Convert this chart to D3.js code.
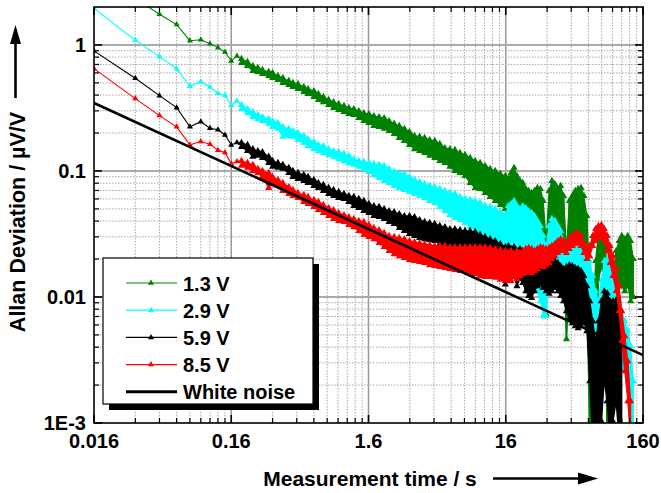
<!DOCTYPE html>
<html>
<head>
<meta charset="utf-8">
<script src="https://cdn.jsdelivr.net/npm/d3@7"></script>
<style>
  body { margin: 0; background: #fff; }
  text { font-family: "Liberation Sans", Arial, Helvetica, sans-serif; font-weight: bold; fill: #000; }
</style>
</head>
<body>
<svg id="chart" width="661" height="493"></svg>
<script>
// Averaging times (s): the first eleven multiples of the 16 ms sample interval ...
const tauShort = [0.016, 0.032, 0.048, 0.064, 0.080, 0.096, 0.112, 0.128, 0.144, 0.160, 0.176];
// ... then sampling positions across the dense, noisy part of each curve
const tauBand = [0.19, 0.21, 0.23, 0.25, 0.27, 0.30, 0.32, 0.35, 0.38, 0.42,
  0.45, 0.49, 0.54, 0.58, 0.64, 0.69, 0.75, 0.82, 0.89, 0.97,
  1.06, 1.15, 1.25, 1.36, 1.48, 1.61, 1.75, 1.91, 2.08, 2.26,
  2.46, 2.68, 2.92, 3.18, 3.46, 3.77, 4.10, 4.46, 4.86, 5.29,
  5.76, 6.27, 6.82, 7.43, 8.08, 8.80, 9.58, 10.4, 11.3, 12.3,
  13.4, 14.6, 15.9,
  16.7, 17.5, 18.4, 19.3, 20.3, 21.3, 22.4, 23.5, 24.7, 25.9,
  27.2, 28.6, 30.0, 31.5, 33.1, 34.7, 36.5, 38.3, 40.2, 42.2,
  44.3, 46.5, 48.9, 51.3, 53.9, 56.6, 59.4, 62.4, 65.5, 68.8,
  72.2, 75.8, 79.6, 83.6, 87.8, 92.2, 96.8, 102, 107, 112,
  118, 124, 130, 136, 143, 150];

// Allan deviation (µV/V): single samples at short tau, then the upper and lower
// edges of the scatter of overlapping samples at longer tau.
const adev13 = [3.3, 2.34, 1.75, 1.45, 1.08, 1.10, 1.02, 0.952, 0.880, 0.746, 0.818];
const adev13Hi = [0.774, 0.733, 0.681, 0.657, 0.633, 0.611, 0.600, 0.567, 0.547, 0.518,
  0.499, 0.491, 0.464, 0.447, 0.431, 0.409, 0.387, 0.366, 0.352, 0.340,
  0.328, 0.316, 0.310, 0.299, 0.288, 0.283, 0.273, 0.268, 0.263, 0.249,
  0.237, 0.228, 0.216, 0.204, 0.190, 0.187, 0.183, 0.176, 0.173, 0.164,
  0.152, 0.149, 0.147, 0.139, 0.134, 0.127, 0.120, 0.116, 0.110, 0.104,
  0.100, 0.0947, 0.0913,
  0.0864, 0.0964, 0.106, 0.0913, 0.0833, 0.0803, 0.0720, 0.0694, 0.0669, 0.0694,
  0.0733, 0.0720, 0.0578, 0.0278, 0.0694, 0.0833, 0.0788, 0.0720, 0.0760, 0.0633,
  0.0232, 0.0578, 0.0633, 0.0694, 0.0720, 0.0733, 0.0633, 0.0439, 0.0134, 0.00536,
  0.0193, 0.0334, 0.0366, 0.0322, 0.0161, 0.00927, 0.0134, 0.0232, 0.0278, 0.0305,
  0.0288, 0.0305, 0.0278, 0.020, null, null];
const adev13Lo = [0.719, 0.681, 0.622, 0.611, 0.588, 0.567, 0.547, 0.528, 0.499, 0.482,
  0.464, 0.447, 0.423, 0.409, 0.387, 0.366, 0.352, 0.334, 0.316, 0.305,
  0.294, 0.283, 0.278, 0.263, 0.249, 0.240, 0.228, 0.224, 0.216, 0.208,
  0.197, 0.183, 0.173, 0.161, 0.149, 0.144, 0.139, 0.132, 0.127, 0.120,
  0.116, 0.108, 0.100, 0.0964, 0.0913, 0.0803, 0.0733, 0.0720, 0.0669, 0.0622,
  0.0578, 0.0537, 0.0499,
  0.0366, 0.0401, 0.0439, 0.0387, 0.0347, 0.0334, 0.0322, 0.0305, 0.0288, 0.0278,
  0.0295, 0.0278, 0.0193, 0.0073, 0.0232, 0.0334, 0.0347, 0.0305, 0.0322, 0.0193,
  0.00463, 0.0134, 0.0278, 0.0305, 0.0322, 0.0305, 0.0254, 0.00927, 0.0008, 0.0007,
  0.00103, 0.0134, 0.0176, 0.0134, 0.0007, 0.0007, 0.00149, 0.00927, 0.0122, 0.0122,
  0.0111, 0.0122, 0.00927, 0.010, null, null];

const adev29 = [1.95, 1.09, 0.808, 0.648, 0.470, 0.511, 0.464, 0.414, 0.399, 0.332, 0.359];
const adev29Hi = [0.334, 0.310, 0.294, 0.278, 0.268, 0.258, 0.249, 0.240, 0.224, 0.216,
  0.208, 0.201, 0.190, 0.179, 0.170, 0.161, 0.158, 0.149, 0.144, 0.141,
  0.137, 0.132, 0.124, 0.120, 0.118, 0.116, 0.114, 0.112, 0.110, 0.104,
  0.0982, 0.0964, 0.0947, 0.0897, 0.0848, 0.0818, 0.0788, 0.0760, 0.0746, 0.0720,
  0.0694, 0.0669, 0.0657, 0.0622, 0.0600, 0.0589, 0.0578, 0.0557, 0.0527, 0.0518,
  0.0499, 0.0472, 0.0447,
  0.0527, 0.0547, 0.0578, 0.0527, 0.0499, 0.0527, 0.0508, 0.0481, 0.0464, 0.0439,
  0.0401, 0.0366, 0.0305, 0.0254, 0.0366, 0.0416, 0.0401, 0.0366, 0.0334, 0.0278,
  0.0254, 0.0278, 0.0288, 0.0294, 0.0288, 0.0278, 0.0254, 0.0232, 0.0193, 0.0147,
  0.0111, 0.00927, 0.0134, 0.0193, 0.0200, 0.0186, 0.0161, 0.0111, 0.00927, 0.00772,
  0.00643, 0.00536, 0.00407, 0.00215, null, null];
const adev29Lo = [0.310, 0.288, 0.268, 0.258, 0.249, 0.237, 0.224, 0.216, 0.187, 0.190,
  0.187, 0.176, 0.167, 0.158, 0.149, 0.144, 0.139, 0.134, 0.130, 0.124,
  0.120, 0.116, 0.112, 0.108, 0.104, 0.0982, 0.0930, 0.0880, 0.0833, 0.0803,
  0.0760, 0.0733, 0.0707, 0.0681, 0.0657, 0.0633, 0.0610, 0.0578, 0.0557, 0.0518,
  0.0481, 0.0447, 0.0423, 0.0408, 0.0387, 0.0359, 0.0334, 0.0311, 0.0294, 0.0278,
  0.0259, 0.0249, 0.0245,
  0.0241, 0.0232, 0.0254, 0.0232, 0.0224, 0.0232, 0.0211, 0.0200, 0.0176, 0.0147,
  0.0111, 0.00927, 0.00705, 0.00705, 0.0134, 0.0211, 0.0200, 0.0186, 0.0161, 0.0122,
  0.00927, 0.0111, 0.0134, 0.0147, 0.0155, 0.0147, 0.0122, 0.00927, 0.00643, 0.00309,
  0.00103, 0.0008, 0.00149, 0.00536, 0.00772, 0.00643, 0.00371, 0.00215, 0.00149, 0.00258,
  0.00282, 0.00215, 0.00103, 0.0007, null, null];

const adev59 = [0.896, 0.544, 0.396, 0.318, 0.224, 0.246, 0.218, 0.212, 0.193, 0.161, 0.168];
const adev59Hi = [0.167, 0.161, 0.149, 0.144, 0.141, 0.130, 0.120, 0.116, 0.112, 0.106,
  0.100, 0.0964, 0.0930, 0.0897, 0.0848, 0.0803, 0.0774, 0.0733, 0.0707, 0.0681,
  0.0657, 0.0633, 0.0622, 0.0600, 0.0578, 0.0547, 0.0527, 0.0518, 0.0499, 0.0481,
  0.0472, 0.0455, 0.0439, 0.0439, 0.0431, 0.0408, 0.0394, 0.0387, 0.0380, 0.0366,
  0.0359, 0.0346, 0.0346, 0.0340, 0.0334, 0.0334, 0.0328, 0.0311, 0.0300, 0.0288,
  0.0278, 0.0263, 0.0249,
  0.0254, 0.0241, 0.0249, 0.0232, 0.0241, 0.0232, 0.0224, 0.0211, 0.0200, 0.0207,
  0.0215, 0.0211, 0.0204, 0.0200, 0.0193, 0.0186, 0.0193, 0.0186, 0.0176, 0.0167,
  0.0173, 0.0179, 0.0176, 0.0170, 0.0167, 0.0161, 0.0147, 0.0122, 0.00927, 0.00643,
  0.00446, 0.00643, 0.00927, 0.0111, 0.0107, 0.00927, 0.00927, 0.00944, 0.00772, 0.00446,
  null, null, null, null, null, null];
const adev59Lo = [0.155, 0.144, 0.130, 0.132, 0.127, 0.116, 0.108, 0.106, 0.104, 0.0964,
  0.0897, 0.0864, 0.0833, 0.0803, 0.0760, 0.0733, 0.0694, 0.0657, 0.0633, 0.0610,
  0.0600, 0.0568, 0.0527, 0.0508, 0.0481, 0.0464, 0.0439, 0.0431, 0.0416, 0.0394,
  0.0380, 0.0353, 0.0334, 0.0316, 0.0305, 0.0294, 0.0288, 0.0283, 0.0278, 0.0263,
  0.0254, 0.0241, 0.0236, 0.0232, 0.0228, 0.0219, 0.0215, 0.0211, 0.0211, 0.0207,
  0.0193, 0.0155, 0.0126,
  0.0134, 0.0161, 0.0147, 0.0122, 0.0139, 0.0129, 0.0111, 0.0102, 0.00983, 0.0111,
  0.0122, 0.0126, 0.0118, 0.0111, 0.0106, 0.0111, 0.0118, 0.0111, 0.0102, 0.00927,
  0.00772, 0.00668, 0.00620, 0.00587, 0.00566, 0.00587, 0.00620, 0.00536, 0.00215, 0.0007,
  0.0007, 0.0007, 0.00103, 0.00215, 0.00149, 0.0007, 0.00103, 0.00149, 0.0007, 0.0007,
  null, null, null, null, null, null];

const adev85 = [0.648, 0.375, 0.275, 0.224, 0.161, 0.171, 0.163, 0.146, 0.140, 0.114, 0.119];
const adev85Hi = [0.120, 0.116, 0.112, 0.104, 0.100, 0.0964, 0.0897, 0.0848, 0.0803, 0.0746,
  0.0707, 0.0669, 0.0645, 0.0622, 0.0589, 0.0568, 0.0537, 0.0508, 0.0490, 0.0464,
  0.0447, 0.0431, 0.0416, 0.0401, 0.0394, 0.0373, 0.0353, 0.0340, 0.0322, 0.0305,
  0.0300, 0.0294, 0.0288, 0.0278, 0.0273, 0.0268, 0.0263, 0.0259, 0.0254, 0.0254,
  0.0254, 0.0249, 0.0249, 0.0249, 0.0249, 0.0249, 0.0249, 0.0249, 0.0249, 0.0245,
  0.0241, 0.0236, 0.0232,
  0.0224, 0.0232, 0.0219, 0.0232, 0.0224, 0.0232, 0.0241, 0.0245, 0.0241, 0.0232,
  0.0241, 0.0249, 0.0245, 0.0241, 0.0245, 0.0254, 0.0263, 0.0278, 0.0288, 0.0278,
  0.0268, 0.0288, 0.0305, 0.0316, 0.0322, 0.0305, 0.0268, 0.0241, 0.0254, 0.0305,
  0.0346, 0.0366, 0.0373, 0.0346, 0.0305, 0.0254, 0.0211, 0.0167, 0.0122, 0.00772,
  0.00489, 0.00309, 0.00149, null, null, null];
const adev85Lo = [0.110, 0.106, 0.100, 0.0964, 0.0897, 0.0733, 0.0803, 0.0760, 0.0694, 0.0657,
  0.0633, 0.0610, 0.0568, 0.0547, 0.0518, 0.0490, 0.0464, 0.0439, 0.0416, 0.0401,
  0.0394, 0.0373, 0.0359, 0.0334, 0.0311, 0.0300, 0.0288, 0.0268, 0.0249, 0.0232,
  0.0219, 0.0211, 0.0204, 0.0197, 0.0193, 0.0190, 0.0186, 0.0179, 0.0176, 0.0173,
  0.0170, 0.0167, 0.0164, 0.0161, 0.0161, 0.0155, 0.0152, 0.0147, 0.0144, 0.0144,
  0.0142, 0.0137, 0.0134,
  0.0139, 0.0134, 0.0144, 0.0139, 0.0147, 0.0152, 0.0155, 0.0161, 0.0155, 0.0161,
  0.0167, 0.0176, 0.0173, 0.0179, 0.0186, 0.0200, 0.0211, 0.0224, 0.0232, 0.0232,
  0.0224, 0.0241, 0.0254, 0.0263, 0.0268, 0.0254, 0.0224, 0.0200, 0.0211, 0.0254,
  0.0278, 0.0294, 0.0300, 0.0278, 0.0232, 0.0186, 0.0147, 0.0111, 0.00772, 0.00446,
  0.00258, 0.00149, 0.0007, null, null, null];

// White-noise reference (slope -1/2)
const tauWhite = [0.016, 160];
const adevWhite = [0.346, 0.00346];

const seriesNames = ["1.3 V", "2.9 V", "5.9 V", "8.5 V"];
const seriesShort = [adev13, adev29, adev59, adev85];
const seriesHi = [adev13Hi, adev29Hi, adev59Hi, adev85Hi];
const seriesLo = [adev13Lo, adev29Lo, adev59Lo, adev85Lo];
const seriesColors = ["#008000", "#00ffff", "#000000", "#ff0000"];

const xMajorLabels = ["0.016", "0.16", "1.6", "16", "160"];
const yMajorLabels = ["1E-3", "0.01", "0.1", "1"];

// ---- layout ----
const plot = { left: 94, right: 643, top: 7, bottom: 423 };
const svg = d3.select("#chart");

const x = d3.scaleLog().domain([0.016, 160]).range([plot.left, plot.right]);
const y = d3.scaleLog().domain([0.001, 2]).range([plot.bottom, plot.top]);

// tick positions
const xTicks = [];
for (let n = 0; n < 4; n++) for (let k = 1; k <= 9; k++) xTicks.push({ v: 0.016 * k * Math.pow(10, n), major: k === 1 });
xTicks.push({ v: 160, major: true });
const yTicks = [];
for (let n = -3; n <= 0; n++) for (let m = 1; m <= 9; m++) {
  const v = m * Math.pow(10, n);
  if (v < 1.99) yTicks.push({ v, major: m === 1 });
}

// ---- grid ----
const grid = svg.append("g");
grid.selectAll("line.xg").data(xTicks.filter(t => t.v > 0.0161 && t.v < 159)).join("line")
  .attr("x1", d => x(d.v)).attr("x2", d => x(d.v))
  .attr("y1", plot.top).attr("y2", plot.bottom)
  .attr("stroke", d => d.major ? "#999" : "#a8a8a8")
  .attr("stroke-width", d => d.major ? 1.5 : 1)
  .attr("stroke-dasharray", d => d.major ? null : "1.5,1.5");
grid.selectAll("line.yg").data(yTicks.filter(t => t.v > 0.00101)).join("line")
  .attr("y1", d => y(d.v)).attr("y2", d => y(d.v))
  .attr("x1", plot.left).attr("x2", plot.right)
  .attr("stroke", d => d.major ? "#aaa" : "#a8a8a8")
  .attr("stroke-width", d => d.major ? 2 : 1)
  .attr("stroke-dasharray", d => d.major ? null : "1.5,1.5");

// ---- data ----
svg.append("clipPath").attr("id", "plotClip").append("rect")
  .attr("x", plot.left).attr("y", plot.top)
  .attr("width", plot.right - plot.left).attr("height", plot.bottom - plot.top);
const dataG = svg.append("g").attr("clip-path", "url(#plotClip)");

const line = d3.line().defined(d => d.v != null).x(d => x(d.t)).y(d => y(d.v));
const band = d3.area().defined(d => d.hi != null)
  .x(d => x(d.t)).y0(d => y(d.lo)).y1(d => y(d.hi));
const tri = d3.symbol().type(d3.symbolTriangle).size(16);
const triDense = d3.symbol().type(d3.symbolTriangle).size(22);

seriesShort.forEach((vals, i) => {
  const color = seriesColors[i];
  const g = dataG.append("g");
  const shortPts = tauShort.map((t, j) => ({ t, v: vals[j] }));
  const bandPts = tauBand.map((t, j) => ({ t, hi: seriesHi[i][j], lo: seriesLo[i][j] }));
  // scatter of samples, drawn alternately on upper and lower edge
  const zig = [];
  bandPts.forEach((d, j) => {
    if (d.hi == null) return;
    zig.push({ t: d.t, v: j % 2 ? d.lo : d.hi });
  });
  const bandStart = { t: bandPts[0].t, v: bandPts[0].hi };

  g.append("path").datum(shortPts.concat([bandStart])).attr("d", line)
    .attr("fill", "none").attr("stroke", color).attr("stroke-width", 1.1);
  g.append("path").datum(bandPts).attr("d", band)
    .attr("fill", color).attr("stroke", color).attr("stroke-width", 1.2).attr("stroke-linejoin", "round");
  g.append("path").datum(zig).attr("d", line)
    .attr("fill", "none").attr("stroke", color).attr("stroke-width", 1.6);

  g.selectAll("path.m").data(shortPts).join("path")
    .attr("d", tri).attr("transform", d => `translate(${x(d.t)},${y(d.v)})`).attr("fill", color);
  const edgePts = [];
  bandPts.forEach(d => {
    if (d.hi == null) return;
    edgePts.push({ t: d.t, v: d.hi }, { t: d.t, v: d.lo });
  });
  g.selectAll("path.e").data(edgePts).join("path")
    .attr("d", triDense).attr("transform", d => `translate(${x(d.t)},${y(d.v)})`).attr("fill", color);
});

dataG.append("path")
  .datum(tauWhite.map((t, j) => ({ t, v: adevWhite[j] })))
  .attr("d", line).attr("fill", "none").attr("stroke", "#000").attr("stroke-width", 2.6);

// ---- frame and ticks ----
const axes = svg.append("g").attr("stroke", "#000");
axes.append("rect").attr("x", plot.left).attr("y", plot.top)
  .attr("width", plot.right - plot.left).attr("height", plot.bottom - plot.top)
  .attr("fill", "none").attr("stroke-width", 1.6);
xTicks.forEach(t => {
  const px = x(t.v), len = t.major ? 8 : 5, w = t.major ? 1.6 : 1.2;
  axes.append("line").attr("x1", px).attr("x2", px).attr("y1", plot.bottom).attr("y2", plot.bottom - len).attr("stroke-width", w);
  axes.append("line").attr("x1", px).attr("x2", px).attr("y1", plot.top).attr("y2", plot.top + len).attr("stroke-width", w);
});
yTicks.forEach(t => {
  const py = y(t.v), len = t.major ? 8 : 5, w = t.major ? 1.6 : 1.2;
  axes.append("line").attr("y1", py).attr("y2", py).attr("x1", plot.left).attr("x2", plot.left + len).attr("stroke-width", w);
  axes.append("line").attr("y1", py).attr("y2", py).attr("x1", plot.right).attr("x2", plot.right - len).attr("stroke-width", w);
});

// tick labels
xTicks.filter(t => t.major).forEach((t, i) => {
  svg.append("text").attr("x", x(t.v)).attr("y", 448).attr("text-anchor", "middle")
    .attr("font-size", 20).text(xMajorLabels[i]);
});
yTicks.filter(t => t.major).forEach((t, i) => {
  svg.append("text").attr("x", 86).attr("y", y(t.v) + 7).attr("text-anchor", "end")
    .attr("font-size", 20).text(yMajorLabels[i]);
});

// axis titles with arrows
svg.append("text").attr("x", 370).attr("y", 486).attr("text-anchor", "middle")
  .attr("font-size", 21).text("Measurement time / s");
svg.append("line").attr("x1", 493).attr("x2", 582).attr("y1", 478.5).attr("y2", 478.5)
  .attr("stroke", "#000").attr("stroke-width", 2.6);
svg.append("path").attr("d", "M578,472.5 L598,478.5 L578,484.5 Z").attr("fill", "#000");

svg.append("text").attr("transform", "translate(25,222) rotate(-90)").attr("text-anchor", "middle")
  .attr("font-size", 21.5).text("Allan Deviation / µV/V");
svg.append("line").attr("x1", 15.5).attr("x2", 15.5).attr("y1", 98).attr("y2", 40)
  .attr("stroke", "#000").attr("stroke-width", 2.6);
svg.append("path").attr("d", "M15.5,25 L10,44 L21,44 Z").attr("fill", "#000");

// ---- legend ----
const lg = { x: 103, y: 258, w: 210, h: 146 };
svg.append("rect").attr("x", lg.x + 6).attr("y", lg.y + 6).attr("width", lg.w).attr("height", lg.h).attr("fill", "#000");
svg.append("rect").attr("x", lg.x).attr("y", lg.y).attr("width", lg.w).attr("height", lg.h)
  .attr("fill", "#fff").attr("stroke", "#000").attr("stroke-width", 1.2);
const legendItems = seriesNames.map((n, i) => ({ name: n, color: seriesColors[i], w: 1.2, marker: true }))
  .concat([{ name: "White noise", color: "#000", w: 3, marker: false }]);
legendItems.forEach((d, i) => {
  const ry = 283 + i * 27.2;
  svg.append("line").attr("x1", 126).attr("x2", 177).attr("y1", ry).attr("y2", ry)
    .attr("stroke", d.color).attr("stroke-width", d.w);
  if (d.marker) svg.append("path").attr("d", tri).attr("transform", `translate(151,${ry})`).attr("fill", d.color);
  svg.append("text").attr("x", 183).attr("y", ry + 7.5).attr("font-size", 20).text(d.name);
});
</script>
</body>
</html>
